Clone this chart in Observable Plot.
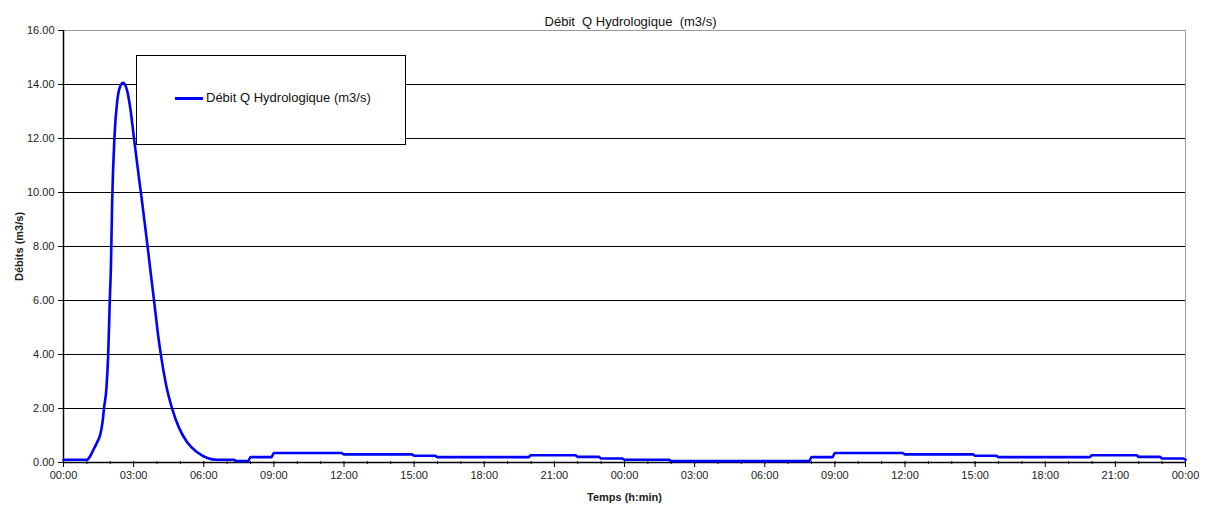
<!DOCTYPE html>
<html>
<head>
<meta charset="utf-8">
<script src="https://cdn.jsdelivr.net/npm/d3@7"></script>
<script src="https://cdn.jsdelivr.net/npm/@observablehq/plot@0.6"></script>
<style>
  html, body { margin: 0; padding: 0; background: #fff; }
  #wrap { position: relative; width: 1212px; height: 514px; font-family: "Liberation Sans", Arial, sans-serif; }
  #wrap svg { font-family: "Liberation Sans", Arial, sans-serif; }
  g[aria-label="x-axis label"] text, g[aria-label="y-axis label"] text { font-weight: bold; }
  #legend { position: absolute; left: 136px; top: 55px; width: 268px; height: 88px; border: 1px solid #000; background: #fff; }
  #legend .sw { position: absolute; left: 38px; top: 41px; width: 28px; height: 3px; background: #0000ff; }
  #legend .lb { position: absolute; left: 69px; top: 34px; font-size: 13px; color: #111; white-space: nowrap; }
</style>
</head>
<body>
<div id="wrap"></div>
<script>
// time in hours since start (two days), discharge in m3/s
const hours = [0, 1.0, 1.15, 1.3, 1.44, 1.58, 1.68, 1.73, 1.84, 1.91, 1.98, 2.03, 2.08, 2.18, 2.30, 2.44, 2.55, 2.72, 2.87, 3.01, 3.22, 3.37, 3.55, 3.72, 3.9, 4.05, 4.2, 4.41, 4.65, 4.93, 5.29, 5.72, 6.15, 6.57,
  7.3, 7.4, 7.9, 8.0, 8.9, 9.0, 11.9, 12.0, 14.9, 15.0, 15.9, 16.0, 19.9, 20.0, 21.9, 22.0, 22.9, 23.0, 23.9, 24.0,
  25.9, 26.0, 31.9, 32.0, 32.9, 33.0, 35.9, 36.0, 38.9, 39.0, 39.9, 40.0, 43.9, 44.0, 45.9, 46.0, 46.9, 47.0, 47.9, 48.0];
const debit = [0.1, 0.1, 0.25, 0.51, 0.75, 1.06, 1.56, 1.99, 2.79, 3.96, 6.0, 7.3, 9.6, 12.05, 13.4, 13.96, 14.06, 13.78, 13.04, 12.05, 10.6, 9.6, 8.34, 7.1, 5.8, 4.7, 3.8, 2.79, 1.99, 1.31, 0.75, 0.38, 0.17, 0.1,
  0.1, 0.05, 0.05, 0.2, 0.2, 0.35, 0.35, 0.3, 0.3, 0.25, 0.25, 0.2, 0.2, 0.27, 0.27, 0.21, 0.21, 0.15, 0.15, 0.1,
  0.1, 0.05, 0.05, 0.2, 0.2, 0.35, 0.35, 0.3, 0.3, 0.25, 0.25, 0.2, 0.2, 0.27, 0.27, 0.21, 0.21, 0.15, 0.15, 0.1];
const majorTicks = d3.range(0, 49, 3);
const minorTicks = d3.range(0, 49, 1);
const yTicks = d3.range(0, 17, 2);
const title = "Débit  Q Hydrologique  (m3/s)";
const xLabel = "Temps (h:min)";
const yLabel = "Débits (m3/s)";
const seriesName = "Débit Q Hydrologique (m3/s)";

const data = hours.map((h, i) => ({h, q: debit[i]}));
const fmtTime = h => String(h % 24).padStart(2, "0") + ":00";

const chart = Plot.plot({
  width: 1212, height: 514,
  marginLeft: 63, marginRight: 27, marginTop: 30, marginBottom: 52,
  style: {fontSize: "11px", color: "#222", background: "#fff"},
  x: {domain: [0, 48]},
  y: {domain: [0, 16]},
  marks: [
    Plot.gridY(yTicks.filter(d => d > 0 && d < 16), {stroke: "#000", strokeOpacity: 1, strokeWidth: 1}),
    Plot.ruleY([16], {stroke: "#9a9a9a", strokeWidth: 1}),
    Plot.ruleX([48], {stroke: "#9a9a9a", strokeWidth: 1}),
    Plot.axisY(yTicks, {tickSize: 5, tickPadding: 4, tickFormat: d => d.toFixed(2), label: yLabel, labelAnchor: "center", labelArrow: "none", labelOffset: 48, stroke: "#000"}),
    Plot.axisX(minorTicks, {tickSize: 3, tickFormat: () => "", label: null, dy: -1, stroke: "#000"}),
    Plot.axisX(majorTicks, {tickSize: 5, tickPadding: 4, tickFormat: fmtTime, label: xLabel, labelAnchor: "center", labelArrow: "none", labelOffset: 38, stroke: "#000"}),
    Plot.ruleY([0], {stroke: "#000", strokeWidth: 1.5}),
    Plot.ruleX([0], {stroke: "#000", strokeWidth: 1.5}),
    Plot.line(data, {x: "h", y: "q", stroke: "#0000ff", strokeWidth: 2.6, curve: "monotone-x"}),
    Plot.text([title], {frameAnchor: "top", dy: -14, dx: 6, fontSize: 13, fill: "#111", style: "white-space: pre"})
  ]
});
const wrap = document.getElementById("wrap");
wrap.appendChild(chart);
const leg = document.createElement("div");
leg.id = "legend";
leg.innerHTML = '<div class="sw"></div><div class="lb"></div>';
leg.querySelector(".lb").textContent = seriesName;
wrap.appendChild(leg);
</script>
</body>
</html>
